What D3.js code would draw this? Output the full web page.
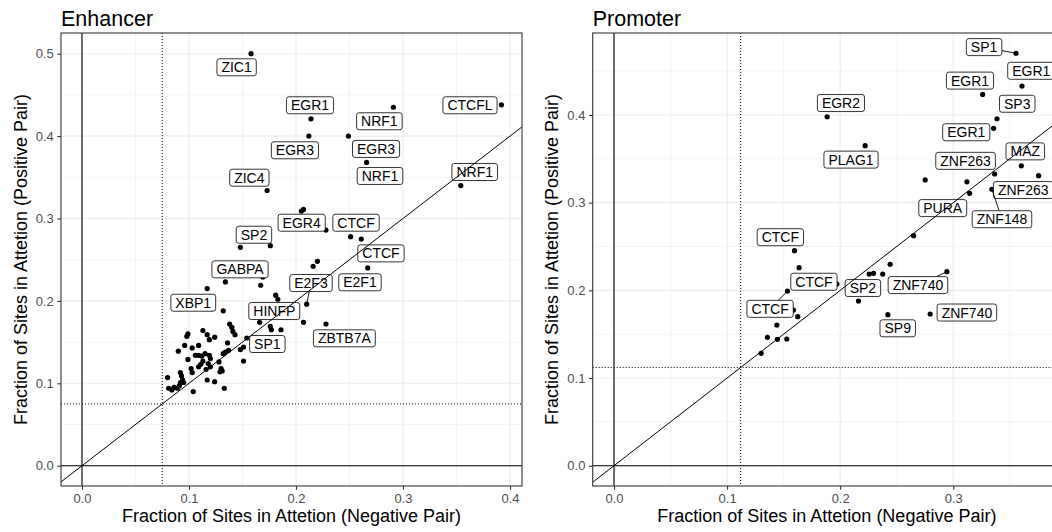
<!DOCTYPE html>
<html>
<head>
<meta charset="utf-8">
<script src="https://cdn.jsdelivr.net/npm/d3@7"></script>
<style>
  body { margin: 0; background: #fff; }
  svg { display: block; font-family: "Liberation Sans", Arial, Helvetica, sans-serif; }
</style>
</head>
<body>
<svg id="chart" width="1052" height="532"></svg>
<script>
// ---- Enhancer data (fraction negative pair, fraction positive pair) ----
var enhNeg = [0.158, 0.214, 0.291, 0.392, 0.212, 0.249, 0.266, 0.354, 0.173, 0.205,
  0.207, 0.228, 0.251, 0.261, 0.148, 0.176, 0.216, 0.220, 0.267, 0.134,
  0.167, 0.169, 0.117, 0.181, 0.183, 0.210, 0.132, 0.166, 0.176, 0.177,
  0.186, 0.207, 0.228, 0.154, 0.138, 0.140, 0.141, 0.143, 0.099, 0.098,
  0.113, 0.117, 0.119, 0.124, 0.096, 0.109, 0.103, 0.090, 0.136, 0.137,
  0.134, 0.132, 0.148, 0.151, 0.151, 0.099, 0.106, 0.109, 0.112, 0.115,
  0.119, 0.120, 0.113, 0.111, 0.109, 0.118, 0.120, 0.116, 0.102, 0.103,
  0.128, 0.130, 0.131, 0.129, 0.092, 0.093, 0.094, 0.095, 0.092, 0.091,
  0.089, 0.086, 0.084, 0.080, 0.081, 0.117, 0.124, 0.133, 0.104];
var enhPos = [0.500, 0.421, 0.435, 0.438, 0.400, 0.400, 0.368, 0.340, 0.334, 0.309,
  0.311, 0.286, 0.278, 0.275, 0.265, 0.267, 0.242, 0.248, 0.240, 0.223,
  0.219, 0.229, 0.215, 0.207, 0.202, 0.196, 0.188, 0.174, 0.169, 0.165,
  0.165, 0.174, 0.172, 0.155, 0.172, 0.168, 0.163, 0.159, 0.160, 0.157,
  0.164, 0.159, 0.153, 0.156, 0.146, 0.146, 0.143, 0.139, 0.149, 0.140,
  0.138, 0.136, 0.141, 0.144, 0.127, 0.129, 0.134, 0.134, 0.133, 0.136,
  0.134, 0.130, 0.127, 0.123, 0.120, 0.124, 0.120, 0.117, 0.118, 0.113,
  0.126, 0.118, 0.115, 0.114, 0.113, 0.109, 0.104, 0.101, 0.101, 0.097,
  0.094, 0.095, 0.092, 0.107, 0.094, 0.104, 0.102, 0.094, 0.090];

var enhLabels = ["ZIC1", "EGR1", "NRF1", "CTCFL", "EGR3", "EGR3", "NRF1", "NRF1", "ZIC4", "EGR4",
  "CTCF", "CTCF", "SP2", "E2F1", "GABPA", "XBP1", "HINFP", "E2F3", "ZBTB7A", "SP1"];
var enhLabelX = [0.1445, 0.2131, 0.2779, 0.3626, 0.199, 0.2748, 0.2785, 0.367, 0.1564, 0.2053,
  0.2561, 0.2794, 0.1607, 0.2598, 0.1477, 0.104, 0.1797, 0.214, 0.2452, 0.1732];
var enhLabelY = [0.4835, 0.4374, 0.418, 0.4374, 0.3828, 0.3844, 0.3516, 0.3564, 0.3495, 0.2949,
  0.2949, 0.2577, 0.2803, 0.2226, 0.2383, 0.1978, 0.1877, 0.2217, 0.1546, 0.1477];
// index of the labelled point when a leader segment is visible
var enhLabelPoint = [null, null, null, null, null, null, null, null, null, null,
  null, null, null, null, null, null, null, 25, null, null];

// ---- Promoter data ----
var proNeg = [0.3555, 0.3608, 0.326, 0.1885, 0.3387, 0.3357, 0.2221, 0.3602, 0.3366, 0.3755,
  0.3145, 0.3342, 0.1596, 0.1971, 0.1534, 0.2162, 0.2944, 0.2422, 0.2796, 0.2752,
  0.3121, 0.2649, 0.1637, 0.2442, 0.2257, 0.2295, 0.2376, 0.1587, 0.1625, 0.144,
  0.1357, 0.1445, 0.1528, 0.1301];
var proPos = [0.4704, 0.433, 0.4235, 0.398, 0.3957, 0.3848, 0.365, 0.342, 0.3327, 0.3308,
  0.3107, 0.3153, 0.2452, 0.2072, 0.1992, 0.1878, 0.2213, 0.1722, 0.173, 0.3259,
  0.3238, 0.2623, 0.2258, 0.2297, 0.2186, 0.2194, 0.2186, 0.1775, 0.170, 0.1604,
  0.1464, 0.1441, 0.1445, 0.1282];

var proLabels = ["SP1", "EGR1", "EGR1", "EGR2", "SP3", "EGR1", "PLAG1", "MAZ", "ZNF263", "ZNF263",
  "PURA", "ZNF148", "CTCF", "CTCF", "CTCF", "SP2", "ZNF740", "SP9", "ZNF740"];
var proLabelX = [0.3273, 0.369, 0.3148, 0.2007, 0.3566, 0.3115, 0.2096, 0.3637, 0.3109, 0.3619,
  0.2907, 0.3431, 0.1471, 0.1768, 0.138, 0.2201, 0.2688, 0.2509, 0.3121];
var proLabelY = [0.4774, 0.4504, 0.4392, 0.4136, 0.4128, 0.3803, 0.3491, 0.3585, 0.3477, 0.3144,
  0.2938, 0.2811, 0.2606, 0.2098, 0.1789, 0.2026, 0.206, 0.1567, 0.1747];
var proLabelPoint = [0, null, null, null, null, null, null, null, null, null,
  null, 11, null, null, 14, null, 16, null, null];

// ---- axes ----
var enhXTicks = [0, 0.1, 0.2, 0.3, 0.4];
var enhYTicks = [0, 0.1, 0.2, 0.3, 0.4, 0.5];
var proXTicks = [0, 0.1, 0.2, 0.3];
var proYTicks = [0, 0.1, 0.2, 0.3, 0.4];
var enhCut = 0.075, proCut = 0.112;
var xTitle = "Fraction of Sites in Attetion (Negative Pair)";
var yTitle = "Fraction of Sites in Attetion (Positive Pair)";

var svg = d3.select("#chart");
var fmt = d3.format(".1f");

function drawPanel(p) {
  var x = d3.scaleLinear().domain(p.xDomain).range([p.left, p.right]);
  var y = d3.scaleLinear().domain(p.yDomain).range([p.bottom, p.top]);
  var g = svg.append("g");

  var clipId = "clip-" + p.id;
  svg.append("clipPath").attr("id", clipId)
    .append("rect")
    .attr("x", p.left).attr("y", p.top)
    .attr("width", p.right - p.left).attr("height", p.bottom - p.top);

  var panel = g.append("g").attr("clip-path", "url(#" + clipId + ")");

  // grid
  var xMinor = p.xTicks.map(function(d) { return d + 0.05; }).concat([p.xTicks[0] - 0.05])
    .filter(function(d) { return d > p.xDomain[0] && d < p.xDomain[1]; });
  var yMinor = p.yTicks.map(function(d) { return d + 0.05; }).concat([p.yTicks[0] - 0.05])
    .filter(function(d) { return d > p.yDomain[0] && d < p.yDomain[1]; });

  panel.selectAll(".xminor").data(xMinor).enter().append("line")
    .attr("x1", function(d) { return x(d); }).attr("x2", function(d) { return x(d); })
    .attr("y1", p.top).attr("y2", p.bottom)
    .attr("stroke", "#ebebeb").attr("stroke-width", 0.55);
  panel.selectAll(".yminor").data(yMinor).enter().append("line")
    .attr("y1", function(d) { return y(d); }).attr("y2", function(d) { return y(d); })
    .attr("x1", p.left).attr("x2", p.right)
    .attr("stroke", "#ebebeb").attr("stroke-width", 0.55);
  panel.selectAll(".xmajor").data(p.xTicks).enter().append("line")
    .attr("x1", function(d) { return x(d); }).attr("x2", function(d) { return x(d); })
    .attr("y1", p.top).attr("y2", p.bottom)
    .attr("stroke", "#ebebeb").attr("stroke-width", 1.1);
  panel.selectAll(".ymajor").data(p.yTicks).enter().append("line")
    .attr("y1", function(d) { return y(d); }).attr("y2", function(d) { return y(d); })
    .attr("x1", p.left).attr("x2", p.right)
    .attr("stroke", "#ebebeb").attr("stroke-width", 1.1);

  // zero lines
  panel.append("line")
    .attr("x1", x(0)).attr("x2", x(0)).attr("y1", p.top).attr("y2", p.bottom)
    .attr("stroke", "#000").attr("stroke-width", 1.1);
  panel.append("line")
    .attr("y1", y(0)).attr("y2", y(0)).attr("x1", p.left).attr("x2", p.right)
    .attr("stroke", "#000").attr("stroke-width", 1.1);

  // cutoff lines (dotted)
  panel.append("line")
    .attr("x1", x(p.cut)).attr("x2", x(p.cut)).attr("y1", p.top).attr("y2", p.bottom)
    .attr("stroke", "#000").attr("stroke-width", 1).attr("stroke-dasharray", "1,2");
  panel.append("line")
    .attr("y1", y(p.cut)).attr("y2", y(p.cut)).attr("x1", p.left).attr("x2", p.right)
    .attr("stroke", "#000").attr("stroke-width", 1).attr("stroke-dasharray", "1,2");

  // points
  var pts = p.neg.map(function(d, i) { return { x: d, y: p.pos[i] }; });
  panel.selectAll(".pt").data(pts).enter().append("circle")
    .attr("cx", function(d) { return x(d.x); })
    .attr("cy", function(d) { return y(d.y); })
    .attr("r", 2.6)
    .attr("fill", "#000");

  // labels
  var labs = p.labels.map(function(t, i) {
    return { text: t, lx: p.labelX[i], ly: p.labelY[i], pt: p.labelPoint[i] };
  });
  labs.forEach(function(d) {
    var cx = x(d.lx), cy = y(d.ly);
    var lg = panel.append("g");
    var txt = lg.append("text")
      .attr("x", cx).attr("y", cy)
      .attr("dy", "0.36em")
      .attr("text-anchor", "middle")
      .style("font-size", "14px")
      .attr("fill", "#000")
      .text(d.text);
    var w = txt.node().getComputedTextLength() + 9;
    var h = 17;
    lg.insert("rect", "text")
      .attr("x", cx - w / 2).attr("y", cy - h / 2)
      .attr("width", w).attr("height", h)
      .attr("rx", 2.5).attr("ry", 2.5)
      .attr("fill", "#fff").attr("stroke", "#000").attr("stroke-width", 0.8);
    if (d.pt !== null) {
      var px = x(p.neg[d.pt]), py = y(p.pos[d.pt]);
      var dx = px - cx, dy = py - cy;
      var t = Math.min(Math.abs(dx) > 0 ? (w / 2) / Math.abs(dx) : Infinity,
                       Math.abs(dy) > 0 ? (h / 2) / Math.abs(dy) : Infinity);
      if (t < 1) {
        lg.insert("line", "rect")
          .attr("x1", cx + dx * t).attr("y1", cy + dy * t)
          .attr("x2", px).attr("y2", py)
          .attr("stroke", "#000").attr("stroke-width", 0.9);
      }
    }
  });

  // y = x reference line
  var hi = Math.min(p.xDomain[1], p.yDomain[1]);
  panel.append("line")
    .attr("x1", x(p.xDomain[0])).attr("y1", y(p.xDomain[0]))
    .attr("x2", x(hi)).attr("y2", y(hi))
    .attr("stroke", "#000").attr("stroke-width", 1);

  // border
  g.append("rect")
    .attr("x", p.left).attr("y", p.top)
    .attr("width", p.right - p.left).attr("height", p.bottom - p.top)
    .attr("fill", "none").attr("stroke", "#333").attr("stroke-width", 1.1);

  // axes
  var xAxis = d3.axisBottom(x).tickValues(p.xTicks).tickFormat(fmt).tickSize(3.7).tickPadding(4.2);
  var yAxis = d3.axisLeft(y).tickValues(p.yTicks).tickFormat(fmt).tickSize(3.7).tickPadding(3.6);
  var gx = g.append("g").attr("transform", "translate(0," + p.bottom + ")").call(xAxis);
  var gy = g.append("g").attr("transform", "translate(" + p.left + ",0)").call(yAxis);
  [gx, gy].forEach(function(a) {
    a.select(".domain").remove();
    a.selectAll(".tick line").attr("stroke", "#333").attr("stroke-width", 1.1);
    a.selectAll(".tick text").attr("fill", "#4d4d4d")
      .style("font-size", "13px")
      .style("font-family", "'Liberation Sans', Arial, sans-serif");
  });

  // titles
  g.append("text")
    .attr("x", p.left).attr("y", 26)
    .style("font-size", "21.5px")
    .attr("fill", "#000")
    .text(p.title);
  g.append("text")
    .attr("x", (p.left + p.right) / 2).attr("y", 521.5)
    .attr("text-anchor", "middle")
    .style("font-size", "18px")
    .attr("fill", "#000")
    .text(xTitle);
  g.append("text")
    .attr("transform", "translate(" + p.yTitleX + "," + ((p.top + p.bottom) / 2) + ") rotate(-90)")
    .attr("text-anchor", "middle")
    .style("font-size", "18px")
    .attr("fill", "#000")
    .text(yTitle);
}

drawPanel({
  id: "enh", title: "Enhancer",
  left: 61, right: 522, top: 33, bottom: 486,
  xDomain: [-0.0196, 0.4112], yDomain: [-0.0246, 0.5251],
  xTicks: enhXTicks, yTicks: enhYTicks, cut: enhCut,
  neg: enhNeg, pos: enhPos,
  labels: enhLabels, labelX: enhLabelX, labelY: enhLabelY, labelPoint: enhLabelPoint,
  yTitleX: 27
});

drawPanel({
  id: "pro", title: "Promoter",
  left: 592.7, right: 1061, top: 33, bottom: 486,
  xDomain: [-0.01885, 0.3953], yDomain: [-0.02315, 0.4935],
  xTicks: proXTicks, yTicks: proYTicks, cut: proCut,
  neg: proNeg, pos: proPos,
  labels: proLabels, labelX: proLabelX, labelY: proLabelY, labelPoint: proLabelPoint,
  yTitleX: 558
});
</script>
</body>
</html>
